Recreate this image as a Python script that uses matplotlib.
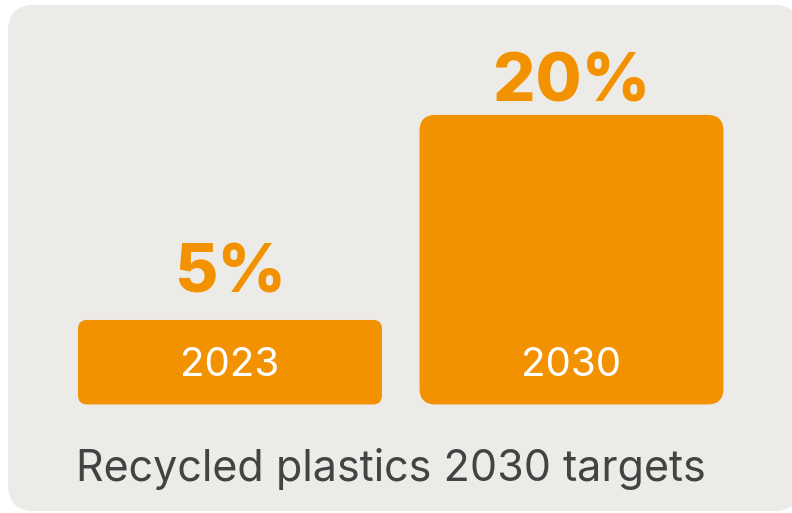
import matplotlib
matplotlib.use("Agg")
import matplotlib.pyplot as plt
from matplotlib.patches import FancyBboxPatch
from matplotlib.transforms import IdentityTransform

# Data
years = ["2023", "2030"]
shares = [5, 20]
value_labels = ["5%", "20%"]
title = "Recycled plastics 2030 targets"

# Styling
ORANGE = "#F29200"
PANEL = "#ECEBE7"
TEXT = "#434343"
FONT = ["Inter", "DejaVu Sans"]

W, H, DPI = 792, 513, 100
fig = plt.figure(figsize=(W / DPI, H / DPI), dpi=DPI, facecolor="white")
ax = fig.add_axes([0, 0, 1, 1])
ax.set_axis_off()

# Axis scale: pixels per category step and per percentage point
step_px = 341.5
unit_px = 13.67
x0_px = 230.0   # pixel position of first category
y0_px = 124.7   # pixel position of the zero line
ax.set_xlim(-x0_px / step_px, (W - x0_px) / step_px)
ax.set_ylim(-y0_px / unit_px, (H - y0_px) / unit_px)

# Rounded background card (pixel coordinates)
card = FancyBboxPatch((8, 2), 792, 506,
                      boxstyle="round,pad=0,rounding_size=26",
                      transform=IdentityTransform(), facecolor=PANEL,
                      edgecolor="none", zorder=0, clip_on=False)
ax.add_patch(card)

bar_width = 0.89
base_pad = 1.18           # bars extend below zero to hold the year label
corner_px = [9, 16]
label_gap_px = [27, 13]
aspect = step_px / unit_px

for i, (yr, v, lab) in enumerate(zip(years, shares, value_labels)):
    r = corner_px[i] / step_px
    bar = FancyBboxPatch((i - bar_width / 2, -base_pad), bar_width, v + base_pad,
                         boxstyle=f"round,pad=0,rounding_size={r}",
                         mutation_aspect=aspect, facecolor=ORANGE,
                         edgecolor="none", zorder=2)
    ax.add_patch(bar)
    ax.annotate(lab, xy=(i, v), xytext=(0, label_gap_px[i] * 0.72),
                textcoords="offset points", ha="center", va="baseline",
                fontsize=48, fontweight="heavy", color=ORANGE,
                family=FONT, zorder=3)
    ax.annotate(yr, xy=(i, -base_pad), xytext=(0, 28.5 * 0.72),
                textcoords="offset points", ha="center", va="baseline",
                fontsize=29, color="white", family=FONT, zorder=3)

fig.text(76 / W, (H - 481) / H, title, ha="left", va="baseline",
         fontsize=31, color=TEXT, family=FONT)

fig.savefig("out.png", dpi=DPI, facecolor="white")
